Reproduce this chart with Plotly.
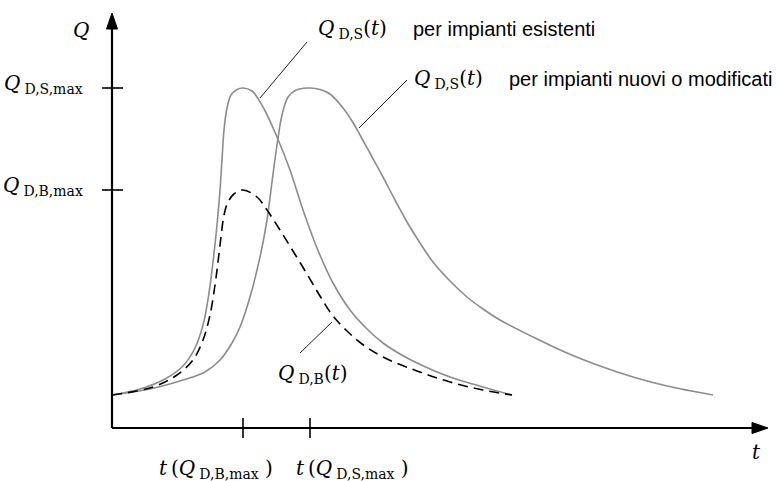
import plotly.graph_objects as go

# ---- data (t in arbitrary time units, Q in arbitrary discharge units) ----
t_exist = [0, 1.4, 2.65, 3.55, 4.15, 4.55, 4.85, 5.05, 5.25, 5.4, 5.5, 5.6, 5.75, 5.95,
           6.25, 6.55, 7.0, 7.55, 8.25, 8.9, 9.55, 10.25, 11.05, 11.9, 12.7, 13.55, 14.4,
           15.25, 16.9, 18.55, 20.0]
q_exist = [3.3, 3.9, 4.9, 6.2, 8.0, 10.3, 13.5, 16.6, 20.3, 23.8, 26.8, 29.8, 32.0, 33.3,
           33.85, 34.0, 33.7, 32.1, 29.1, 25.8, 21.8, 18.0, 14.5, 11.8, 10.0, 8.5, 7.4,
           6.5, 5.1, 4.1, 3.3]

t_new = [0, 1.9, 3.55, 4.65, 5.4, 6.0, 6.4, 6.9, 7.4, 7.75, 8.0, 8.25, 8.5, 8.8, 9.2, 9.55,
         9.9, 10.4, 10.9, 11.55, 12.0, 12.4, 12.95, 13.55, 14.15, 14.75, 15.4, 16.05, 16.9,
         17.75, 18.55, 19.4, 21.05, 22.75, 24.4, 26.05, 27.75, 30.05]
q_new = [3.3, 3.9, 4.8, 5.6, 6.8, 8.5, 10.1, 13.1, 17.1, 20.8, 24.6, 28.3, 31.3, 33.1, 33.8,
         33.97, 34.0, 33.85, 33.4, 32.0, 30.7, 29.3, 27.3, 25.1, 22.8, 20.6, 18.5, 16.6,
         14.7, 13.1, 11.9, 10.8, 9.1, 7.5, 6.2, 5.1, 4.2, 3.3]

t_base = [0, 2.05, 3.25, 4.05, 4.55, 4.9, 5.15, 5.3, 5.45, 5.6, 5.8, 6.1, 6.55, 7.25, 7.75,
          8.4, 9.05, 9.75, 10.4, 11.05, 11.75, 12.5, 13.55, 15.25, 16.9, 18.55, 20.0]
q_base = [3.3, 4.1, 5.3, 6.8, 8.8, 11.3, 14.3, 16.6, 19.1, 21.3, 22.6, 23.4, 23.8, 23.1, 21.8,
          19.8, 17.7, 15.4, 13.2, 11.2, 9.7, 8.4, 7.1, 5.7, 4.6, 3.8, 3.3]

q_ticks = [34.0, 23.8]
q_tick_labels = ["<i>Q</i>&#8201;<sub>D,S,max</sub>", "<i>Q</i>&#8201;<sub>D,B,max</sub>"]
t_ticks = [6.55, 9.9]
t_tick_labels = ["<i>t</i>&#8201;(<i>Q</i>&#8201;<sub>D,B,max</sub> )",
                 "<i>t</i>&#8201;(<i>Q</i>&#8201;<sub>D,S,max</sub> )"]

# ---- figure geometry: pixel <-> data helpers for layout only ----
W, H = 779, 481
X0, Y0, SX, SY = 112, 428, 20.0, 10.0
def tx(px):
    return (px - X0) / SX
def qy(py):
    return (Y0 - py) / SY

GRAY = "#8c8c8c"
MATH = "DejaVu Serif"
SANS = "Liberation Sans"

fig = go.Figure()
fig.add_trace(go.Scatter(x=t_exist, y=q_exist, mode="lines",
                         line=dict(color=GRAY, width=1.6, shape="spline", smoothing=1.0)))
fig.add_trace(go.Scatter(x=t_new, y=q_new, mode="lines",
                         line=dict(color=GRAY, width=1.6, shape="spline", smoothing=1.0)))
fig.add_trace(go.Scatter(x=t_base, y=q_base, mode="lines",
                         line=dict(color="black", width=1.6, dash="10px,6px",
                                   shape="spline", smoothing=1.0)))

shapes = []
AX = dict(color="black", width=2.2)
# axes
shapes.append(dict(type="line", x0=0, y0=0, x1=0, y1=qy(27), line=AX))
shapes.append(dict(type="line", x0=0, y0=0, x1=tx(753), y1=0, line=AX))
# arrow heads
shapes.append(dict(type="path",
                   path=f"M {tx(112)},{qy(13)} L {tx(106.5)},{qy(29)} L {tx(117.5)},{qy(29)} Z",
                   fillcolor="black", line=dict(color="black", width=1)))
shapes.append(dict(type="path",
                   path=f"M {tx(768)},{qy(428)} L {tx(752)},{qy(422.5)} L {tx(752)},{qy(433.5)} Z",
                   fillcolor="black", line=dict(color="black", width=1)))
# ticks
for q in q_ticks:
    shapes.append(dict(type="line", x0=tx(102), x1=tx(123), y0=q, y1=q, line=dict(color="black", width=1.6)))
for t in t_ticks:
    shapes.append(dict(type="line", x0=t, x1=t, y0=qy(418), y1=qy(438), line=dict(color="black", width=1.6)))
# leader lines
LD = dict(color="#222222", width=1)
for (a, b, c, d) in [(307, 42, 260, 98), (407, 80, 359, 128), (332, 322, 300, 353)]:
    shapes.append(dict(type="line", x0=tx(a), y0=qy(b), x1=tx(c), y1=qy(d), line=LD))

ann = []
MF = dict(family=MATH, size=20, color="black")
SF = dict(family=SANS, size=20, color="black")
def A(text, px, py, xanchor="left", font=MF):
    ann.append(dict(text=text, x=tx(px), y=qy(py), xref="x", yref="y", showarrow=False,
                    xanchor=xanchor, yanchor="middle", font=font))

A("<i>Q</i>", 81, 30, "center")
A("<i>t</i>", 756, 452, "center")
for q, lab in zip(q_ticks, q_tick_labels):
    ann.append(dict(text=lab, x=tx(85), y=q, xref="x", yref="y", showarrow=False,
                    xanchor="right", yanchor="middle", yshift=4, font=MF))
A(t_tick_labels[0], 157, 469)
A(t_tick_labels[1], 294, 469)
A("<i>Q</i>&#8201;<sub>D,S</sub>(<i>t</i>)", 316, 29)
A("per impianti esistenti", 411, 29, font=SF)
A("<i>Q</i>&#8201;<sub>D,S</sub>(<i>t</i>)", 412, 79)
A("per impianti nuovi o modificati", 507, 79, font=SF)
A("<i>Q</i>&#8201;<sub>D,B</sub>(<i>t</i>)", 276, 374)

fig.update_layout(
    width=W, height=H, margin=dict(l=0, r=0, t=0, b=0),
    paper_bgcolor="white", plot_bgcolor="white", showlegend=False,
    xaxis=dict(range=[tx(0), tx(W)], visible=False, fixedrange=True),
    yaxis=dict(range=[qy(H), qy(0)], visible=False, fixedrange=True),
    shapes=shapes, annotations=ann,
)
fig.write_html("out.html", config={"displayModeBar": False},
               post_script="document.body.style.margin='0';document.body.style.overflow='hidden';")
